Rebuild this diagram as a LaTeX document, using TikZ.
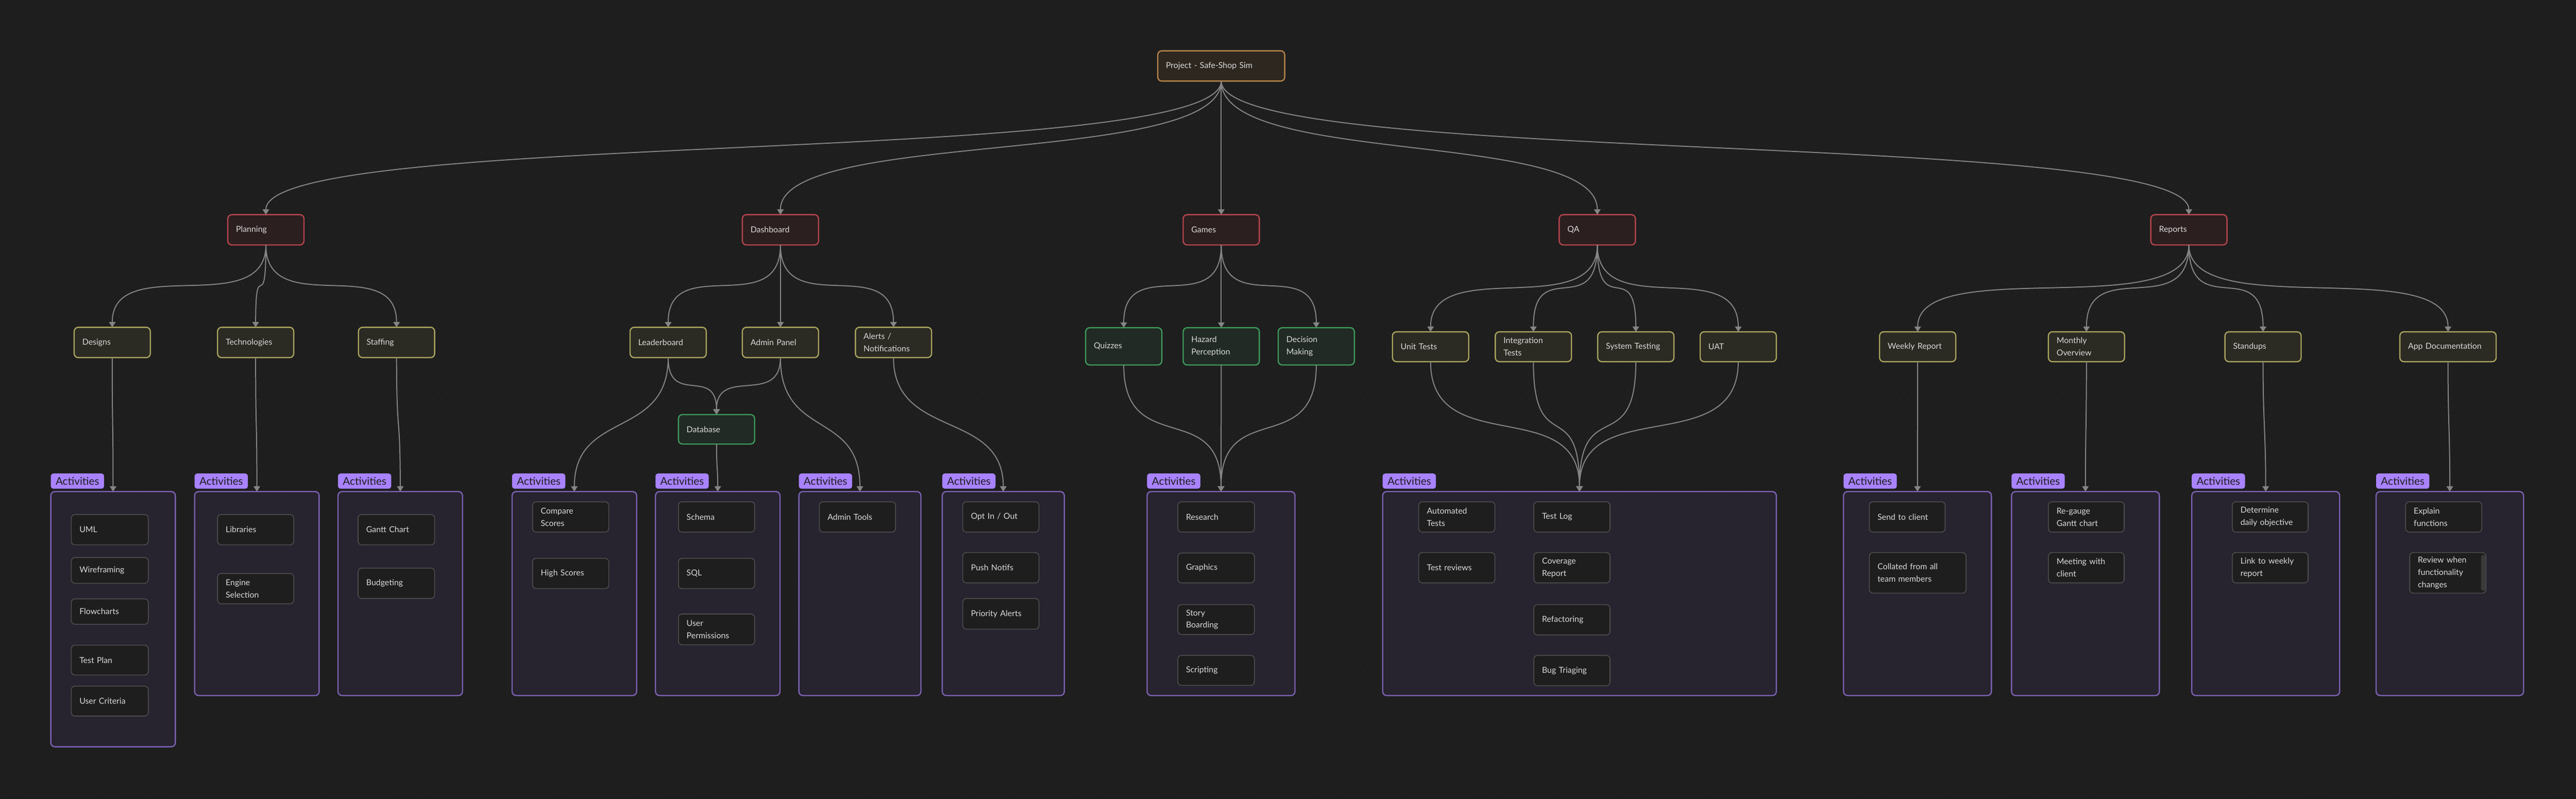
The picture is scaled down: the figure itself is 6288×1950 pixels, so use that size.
\documentclass[tikz,border=0pt]{standalone}
\usepackage{fontspec}
\setmainfont{Lato}
\usetikzlibrary{arrows.meta,patterns.meta}
\definecolor{bgc}{HTML}{1E1E1E}
\definecolor{dotc}{HTML}{2A2A2A}
\definecolor{txt}{HTML}{DADADA}
\definecolor{rootb}{HTML}{B5834A}
\definecolor{rootf}{HTML}{2D2720}
\definecolor{redb}{HTML}{B5454C}
\definecolor{redf}{HTML}{2C1F20}
\definecolor{yelb}{HTML}{A8A35E}
\definecolor{yelf}{HTML}{2B2A23}
\definecolor{grnb}{HTML}{3E9A5A}
\definecolor{grnf}{HTML}{212A24}
\definecolor{grpb}{HTML}{7C62B3}
\definecolor{grpf}{HTML}{27232F}
\definecolor{lblf}{HTML}{A882FF}
\definecolor{lblt}{HTML}{1E1E1E}
\definecolor{itemb}{HTML}{4F4F4F}
\definecolor{itemf}{HTML}{1E1E1E}
\definecolor{edgec}{HTML}{858585}
\definecolor{scrollc}{HTML}{3A3A3A}
\pgfdeclarepattern{
  name=cdots,
  type=uncolored,
  bottom left={\pgfpoint{0pt}{0pt}},
  top right={\pgfpoint{20pt}{20pt}},
  tile size={\pgfpoint{20pt}{20pt}},
  code={\pgfpathrectangle{\pgfpoint{9pt}{9pt}}{\pgfpoint{1.5pt}{2.5pt}}\pgfusepath{fill}}
}
\newcommand\bx[7]{\pgfmathsetmacro\tw{#5-40}\node[#1,anchor=north west,text width=\tw pt,minimum height=#6pt] (#2) at (#3,#4) {#7};}
\newcommand\grpbox[5]{\node[grp,anchor=north west,minimum width=#4pt,minimum height=#5pt] (#1) at (#2,#3) {};
  \node[lbl] (#1l) at (#2,1156) {Activities};}
\newcommand\cv[3]{\draw[edge] (#1.south) .. controls +(0,#3) and +(0,-#3) .. (#2.north);}
\begin{document}
\begin{tikzpicture}[x=1pt,y=-1pt,
  every node/.style={font=\fontsize{20}{30}\selectfont, text=txt, outer sep=0pt},
  base/.style={rounded corners=10pt, line width=3pt, inner xsep=20pt, inner ysep=0pt, align=left},
  rootn/.style={base, draw=rootb, fill=rootf},
  redn/.style={base, draw=redb, fill=redf},
  yeln/.style={base, draw=yelb, fill=yelf},
  grnn/.style={base, draw=grnb, fill=grnf},
  item/.style={base, draw=itemb, fill=itemf, line width=2pt, rounded corners=9pt},
  grp/.style={draw=grpb, fill=grpf, line width=3pt, rounded corners=10pt, inner sep=0pt},
  lbl/.style={fill=lblf, text=lblt, rounded corners=6pt, inner sep=0pt, anchor=north west,
    font=\fontsize{26}{30}\selectfont, minimum height=37pt, minimum width=130pt},
  edge/.style={draw=edgec, line width=2.5pt, -{Triangle[length=13pt,width=16pt]}}
]
\useasboundingbox (0,0) rectangle (6288,1950);
\fill[bgc] (0,0) rectangle (6288,1950);
\fill[pattern=cdots, pattern color=dotc] (0,0) rectangle (6288,1950);

% root and level 1
\bx{rootn}{root}{2826}{124}{310}{74}{Project - Safe-Shop Sim}
\bx{redn}{plan}{556}{524}{186}{74}{Planning}
\bx{redn}{dash}{1812}{524}{186}{74}{Dashboard}
\bx{redn}{games}{2888}{524}{186}{74}{Games}
\bx{redn}{qa}{3806}{524}{186}{74}{QA}
\bx{redn}{rep}{5250}{524}{186}{74}{Reports}

% level 2
\bx{yeln}{des}{181}{799}{186}{74}{Designs}
\bx{yeln}{tech}{531}{799}{186}{74}{Technologies}
\bx{yeln}{staff}{875}{799}{186}{74}{Staffing}
\bx{yeln}{lead}{1538}{799}{186}{74}{Leaderboard}
\bx{yeln}{admin}{1812}{799}{186}{74}{Admin Panel}
\bx{yeln}{alerts}{2088}{799}{186}{74}{Alerts /\\Notifications}
\bx{grnn}{db}{1656}{1012}{186}{72}{Database}
\bx{grnn}{quiz}{2650}{800}{186}{91}{Quizzes}
\bx{grnn}{hazard}{2888}{800}{186}{91}{Hazard\\Perception}
\bx{grnn}{decision}{3120}{800}{186}{91}{Decision\\Making}
\bx{yeln}{unit}{3399}{810}{186}{73}{Unit Tests}
\bx{yeln}{integ}{3650}{810}{186}{73}{Integration\\Tests}
\bx{yeln}{sys}{3900}{810}{186}{73}{System Testing}
\bx{yeln}{uat}{4150}{810}{186}{73}{UAT}
\bx{yeln}{weekly}{4588}{810}{186}{73}{Weekly Report}
\bx{yeln}{monthly}{5000}{810}{186}{73}{Monthly\\Overview}
\bx{yeln}{stand}{5431}{810}{186}{73}{Standups}
\bx{yeln}{appdoc}{5858}{810}{235}{73}{App Documentation}

% groups
\grpbox{gDes}{124}{1200}{304}{623}
\grpbox{gTech}{475}{1200}{304}{498}
\grpbox{gStaff}{825}{1200}{304}{498}
\grpbox{gLead}{1250}{1200}{304}{498}
\grpbox{gDb}{1600}{1200}{304}{498}
\grpbox{gAdm}{1950}{1200}{298}{498}
\grpbox{gAlr}{2300}{1200}{298}{498}
\grpbox{gGam}{2800}{1200}{361}{498}
\grpbox{gQA}{3375}{1200}{961}{498}
\grpbox{gWk}{4500}{1200}{361}{498}
\grpbox{gMo}{4910}{1200}{361}{498}
\grpbox{gSt}{5350}{1200}{361}{498}
\grpbox{gAp}{5800}{1200}{360}{498}

% activity items
\bx{item}{uml}{174}{1256}{188}{74}{UML}
\bx{item}{wire}{174}{1361}{188}{63}{Wireframing}
\bx{item}{flow}{174}{1462}{188}{62}{Flowcharts}
\bx{item}{tplan}{174}{1575}{188}{73}{Test Plan}
\bx{item}{ucrit}{174}{1675}{188}{73}{User Criteria}
\bx{item}{libs}{531}{1256}{186}{74}{Libraries}
\bx{item}{engine}{531}{1400}{186}{74}{Engine\\Selection}
\bx{item}{gantt}{874}{1256}{187}{74}{Gantt Chart}
\bx{item}{budget}{874}{1387}{187}{74}{Budgeting}
\bx{item}{cmp}{1300}{1225}{186}{74}{Compare\\Scores}
\bx{item}{high}{1300}{1363}{186}{74}{High Scores}
\bx{item}{schema}{1656}{1225}{186}{74}{Schema}
\bx{item}{sql}{1656}{1363}{186}{74}{SQL}
\bx{item}{uperm}{1656}{1499}{186}{75}{User\\Permissions}
\bx{item}{atools}{2000}{1225}{186}{74}{Admin Tools}
\bx{item}{optin}{2350}{1225}{186}{74}{Opt In / Out}
\bx{item}{push}{2350}{1349}{186}{74}{Push Notifs}
\bx{item}{prio}{2350}{1461}{186}{75}{Priority Alerts}
\bx{item}{research}{2875}{1225}{187}{74}{Research}
\bx{item}{graphics}{2875}{1350}{187}{73}{Graphics}
\bx{item}{story}{2875}{1476}{187}{73}{Story\\Boarding}
\bx{item}{script}{2875}{1600}{187}{73}{Scripting}
\bx{item}{auto}{3463}{1225}{186}{74}{Automated\\Tests}
\bx{item}{trev}{3463}{1349}{186}{74}{Test reviews}
\bx{item}{tlog}{3744}{1225}{186}{74}{Test Log}
\bx{item}{cov}{3744}{1349}{186}{74}{Coverage\\Report}
\bx{item}{refac}{3744}{1476}{186}{74}{Refactoring}
\bx{item}{bug}{3744}{1600}{186}{74}{Bug Triaging}
\bx{item}{send}{4563}{1225}{185}{74}{Send to client}
\bx{item}{coll}{4563}{1349}{236}{99}{Collated from all\\team members}
\bx{item}{regauge}{5000}{1225}{185}{74}{Re-gauge\\Gantt chart}
\bx{item}{meet}{5000}{1349}{185}{74}{Meeting with\\client}
\bx{item}{determ}{5449}{1225}{185}{74}{Determine\\daily objective}
\bx{item}{link}{5449}{1349}{185}{74}{Link to weekly\\report}
\bx{item}{explain}{5872}{1225}{186}{74}{Explain\\functions}
\bx{item}{review}{5882}{1349}{186}{99}{Review when\\functionality\\changes}
\fill[scrollc, rounded corners=5pt] (6056,1355) rectangle (6067,1442);

% edges root -> level 1
\cv{root}{plan}{210}
\cv{root}{dash}{210}
\cv{root}{games}{210}
\cv{root}{qa}{210}
\cv{root}{rep}{210}
% level 1 -> level 2
\cv{plan}{des}{185}
\cv{plan}{tech}{185}
\cv{plan}{staff}{185}
\cv{dash}{lead}{185}
\cv{dash}{admin}{185}
\cv{dash}{alerts}{185}
\cv{games}{quiz}{185}
\cv{games}{hazard}{185}
\cv{games}{decision}{185}
\cv{qa}{unit}{190}
\cv{qa}{integ}{190}
\cv{qa}{sys}{190}
\cv{qa}{uat}{190}
\cv{rep}{weekly}{190}
\cv{rep}{monthly}{190}
\cv{rep}{stand}{190}
\cv{rep}{appdoc}{190}
% level 2 -> groups
\cv{des}{gDes}{200}
\cv{tech}{gTech}{200}
\cv{staff}{gStaff}{200}
\cv{lead}{gLead}{200}
\cv{lead}{db}{120}
\cv{admin}{db}{120}
\cv{admin}{gAdm}{200}
\cv{db}{gDb}{60}
\cv{alerts}{gAlr}{200}
\cv{quiz}{gGam}{230}
\cv{hazard}{gGam}{230}
\cv{decision}{gGam}{230}
\cv{unit}{gQA}{240}
\cv{integ}{gQA}{240}
\cv{sys}{gQA}{240}
\cv{uat}{gQA}{240}
\cv{weekly}{gWk}{150}
\cv{monthly}{gMo}{150}
\cv{stand}{gSt}{150}
\cv{appdoc}{gAp}{150}
\end{tikzpicture}
\end{document}
